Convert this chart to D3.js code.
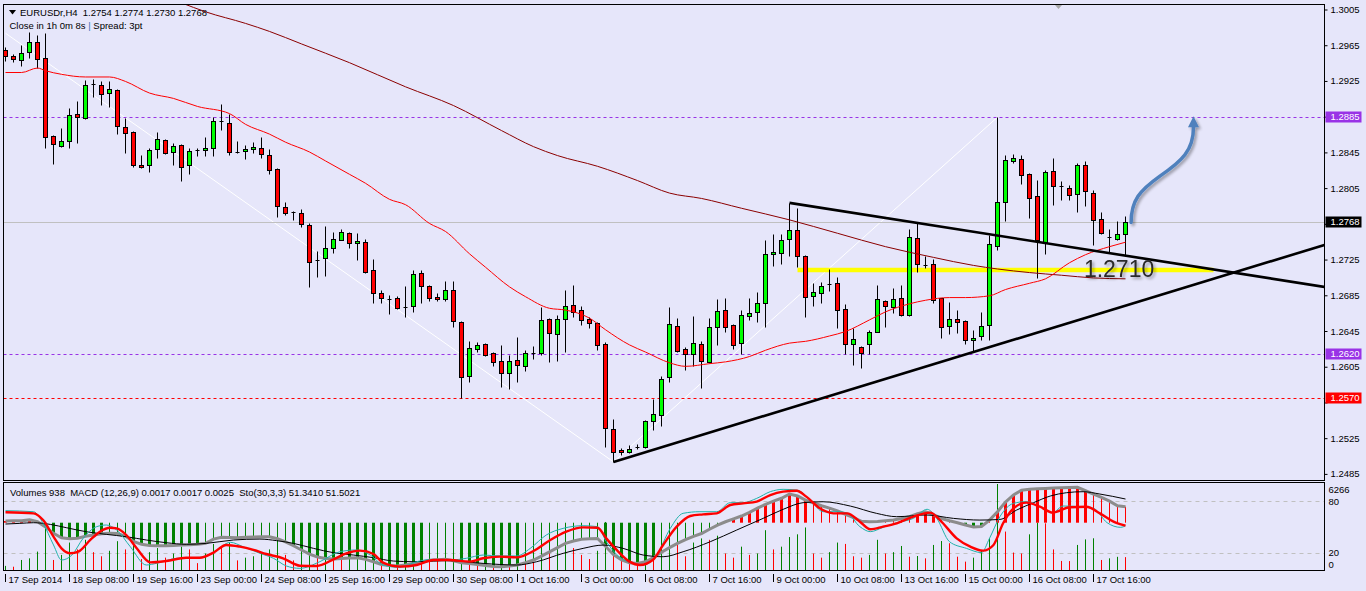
<!DOCTYPE html>
<html><head><meta charset="utf-8">
<script src="https://cdn.jsdelivr.net/npm/d3@7"></script>
<style>
html,body{margin:0;padding:0;background:#E6E6FA;overflow:hidden;}
svg{display:block;}
text{font-family:"Liberation Sans",Arial,sans-serif;}
</style></head><body>
<svg id="c" width="1366" height="591"></svg>
<script>
// ---------------- DATA ----------------
const symbol = "EURUSDr,H4";
const open = [1.2960,1.2954,1.2949,1.2958,1.2969,1.2951,1.2864,1.2853,1.2858,1.2888,
1.2884,1.2922,1.2921,1.2912,1.2915,1.2874,1.2868,1.2832,1.2832,1.2849,
1.2859,1.2846,1.2854,1.2831,1.2848,1.2848,1.2850,1.2881,1.2879,1.2846,
1.2847,1.2849,1.2851,1.2843,1.2827,1.2784,1.2779,1.2778,1.2764,1.2725,
1.2727,1.2739,1.2748,1.2755,1.2744,1.2745,1.2714,1.2688,1.2681,1.2682,
1.2673,1.2674,1.2710,1.2696,1.2684,1.2681,1.2692,1.2656,1.2595,1.2625,
1.2631,1.2621,1.2612,1.2599,1.2613,1.2606,1.2621,1.2621,1.2659,1.2642,
1.2659,1.2675,1.2669,1.2659,1.2654,1.2631,1.2536,1.2512,1.2510,1.2516,
1.2516,1.2545,1.2552,1.2594,1.2651,1.2625,1.2620,1.2631,1.2611,1.2650,
1.2669,1.2652,1.2632,1.2662,1.2667,1.2677,1.2732,1.2733,1.2749,1.2759,
1.2729,1.2685,1.2688,1.2698,1.2699,1.2670,1.2631,1.2628,1.2631,1.2645,
1.2679,1.2672,1.2682,1.2663,1.2750,1.2720,1.2721,1.2682,1.2651,1.2659,
1.2657,1.2636,1.2640,1.2652,1.2741,1.2790,1.2836,1.2838,1.2821,1.2797,
1.2745,1.2825,1.2808,1.2806,1.2799,1.2832,1.2800,1.2771,1.2751,1.2749,
1.2754];
const high = [1.2964,1.2956,1.2966,1.2980,1.2977,1.2979,1.2865,1.2873,1.2895,1.2903,
1.2927,1.2928,1.2925,1.2925,1.2916,1.2884,1.2870,1.2843,1.2850,1.2868,
1.2861,1.2856,1.2855,1.2850,1.2851,1.2863,1.2885,1.2900,1.2889,1.2858,
1.2854,1.2857,1.2863,1.2849,1.2828,1.2790,1.2780,1.2782,1.2767,1.2735,
1.2763,1.2756,1.2760,1.2756,1.2755,1.2749,1.2726,1.2691,1.2686,1.2685,
1.2696,1.2714,1.2714,1.2697,1.2688,1.2701,1.2701,1.2657,1.2634,1.2633,
1.2632,1.2622,1.2630,1.2619,1.2639,1.2624,1.2629,1.2673,1.2660,1.2663,
1.2691,1.2697,1.2674,1.2661,1.2656,1.2633,1.2547,1.2515,1.2518,1.2519,
1.2546,1.2569,1.2595,1.2673,1.2660,1.2628,1.2662,1.2634,1.2660,1.2681,
1.2682,1.2653,1.2669,1.2683,1.2689,1.2747,1.2754,1.2754,1.2789,1.2783,
1.2731,1.2699,1.2700,1.2715,1.2706,1.2676,1.2649,1.2629,1.2647,1.2697,
1.2680,1.2694,1.2697,1.2760,1.2766,1.2730,1.2726,1.2683,1.2678,1.2669,
1.2658,1.2647,1.2667,1.2753,1.2885,1.2843,1.2844,1.2843,1.2822,1.2815,
1.2826,1.2839,1.2814,1.2809,1.2834,1.2836,1.2803,1.2779,1.2760,1.2769,
1.2774];
const low = [1.2948,1.2947,1.2942,1.2951,1.2940,1.2850,1.2833,1.2852,1.2851,1.2856,
1.2883,1.2908,1.2899,1.2896,1.2866,1.2845,1.2829,1.2828,1.2824,1.2839,
1.2844,1.2831,1.2814,1.2821,1.2842,1.2841,1.2841,1.2871,1.2843,1.2845,
1.2838,1.2845,1.2839,1.2821,1.2773,1.2776,1.2770,1.2762,1.2695,1.2706,
1.2707,1.2733,1.2747,1.2738,1.2725,1.2711,1.2677,1.2677,1.2665,1.2670,
1.2661,1.2667,1.2677,1.2679,1.2679,1.2679,1.2650,1.2570,1.2588,1.2622,
1.2618,1.2606,1.2583,1.2581,1.2588,1.2601,1.2614,1.2619,1.2611,1.2612,
1.2622,1.2661,1.2652,1.2649,1.2624,1.2516,1.2499,1.2507,1.2509,1.2513,
1.2515,1.2535,1.2539,1.2588,1.2622,1.2602,1.2606,1.2582,1.2610,1.2630,
1.2644,1.2625,1.2620,1.2658,1.2656,1.2650,1.2718,1.2721,1.2729,1.2717,
1.2661,1.2674,1.2677,1.2690,1.2649,1.2620,1.2607,1.2604,1.2620,1.2644,
1.2650,1.2666,1.2662,1.2662,1.2712,1.2716,1.2677,1.2638,1.2642,1.2643,
1.2631,1.2623,1.2635,1.2636,1.2736,1.2769,1.2834,1.2810,1.2772,1.2705,
1.2732,1.2787,1.2792,1.2792,1.2779,1.2785,1.2742,1.2754,1.2734,1.2747,
1.2730];
const close = [1.2954,1.2950,1.2957,1.2969,1.2950,1.2863,1.2855,1.2858,1.2887,1.2885,
1.2921,1.2922,1.2911,1.2916,1.2875,1.2867,1.2831,1.2829,1.2848,1.2860,
1.2845,1.2853,1.2829,1.2847,1.2848,1.2850,1.2881,1.2881,1.2846,1.2846,
1.2849,1.2852,1.2844,1.2826,1.2786,1.2778,1.2779,1.2765,1.2723,1.2725,
1.2738,1.2749,1.2756,1.2744,1.2746,1.2712,1.2688,1.2682,1.2681,1.2671,
1.2673,1.2709,1.2696,1.2683,1.2681,1.2691,1.2657,1.2594,1.2626,1.2630,
1.2619,1.2611,1.2598,1.2612,1.2607,1.2621,1.2621,1.2658,1.2643,1.2659,
1.2674,1.2667,1.2658,1.2655,1.2630,1.2537,1.2510,1.2510,1.2514,1.2516,
1.2545,1.2553,1.2592,1.2653,1.2623,1.2620,1.2632,1.2612,1.2650,1.2668,
1.2650,1.2630,1.2663,1.2666,1.2677,1.2732,1.2734,1.2748,1.2759,1.2730,
1.2684,1.2689,1.2696,1.2698,1.2669,1.2631,1.2637,1.2621,1.2644,1.2681,
1.2674,1.2681,1.2663,1.2751,1.2721,1.2719,1.2680,1.2650,1.2659,1.2656,
1.2635,1.2638,1.2651,1.2743,1.2790,1.2837,1.2839,1.2820,1.2795,1.2747,
1.2824,1.2808,1.2807,1.2798,1.2831,1.2802,1.2770,1.2755,1.2750,1.2754,
1.2768];
// moving averages: [bar, price]
const maFast = [[0,1.2935],[2,1.2935],[4,1.2940],[5,1.2937],[7,1.2933],[10,1.2930],[13,1.2930],[15,1.2925],[18,1.2912],[21,1.2906],[24,1.2897],[28,1.2889],[30,1.2877],[33,1.2866],[35,1.2857],[38,1.2846],[40,1.2836],[43,1.2821],[45,1.2811],[48,1.2793],[50,1.2787],[53,1.2766],[55,1.2757],[58,1.2732],[60,1.2717],[63,1.2695],[65,1.2684],[68,1.2671],[70,1.2669],[73,1.2660],[75,1.2647],[78,1.2630],[80,1.2622],[83,1.2610],[85,1.2606],[88,1.2609],[90,1.2611],[93,1.2617],[95,1.2624],[98,1.2632],[100,1.2634],[103,1.2640],[105,1.2645],[108,1.2658],[110,1.2667],[113,1.2676],[115,1.2680],[118,1.2683],[120,1.2683],[123,1.2685],[125,1.2692],[128,1.2699],[130,1.2704],[133,1.2722],[135,1.2731],[138,1.2740],[140,1.2745]];
const maSlow = [[20,1.3020],[22,1.3013],[25,1.3003],[30,1.2990],[33,1.2981],[37,1.2967],[43,1.2946],[50,1.2919],[56,1.2898],[62,1.2870],[66,1.2852],[69,1.2842],[74,1.2830],[79,1.2814],[83,1.2800],[87,1.2794],[92,1.2783],[98,1.2770],[104,1.2755],[110,1.2740],[116,1.2728],[121,1.2719],[124,1.2715],[128,1.2711],[132,1.2708],[136,1.2705],[140,1.2704]];
// drawn objects (bar, price)
const whiteLines = [[[0,1.2979],[76,1.2499]], [[76,1.2499],[124,1.2885]]];
const trendRays = [[[76,1.2499],[121,1.2622]], [[98,1.2789],[130,1.2744]]];
const yellowLevel = {price:1.2714, from:99, to:151};
const noteText = {text:"1.2710", bar:134.8, price:1.2706};
const arrowPts = [[140.7,1.2767],[140.7,1.2792],[141.8,1.2803],[144.3,1.2819],[147.1,1.2836],[148.5,1.2848],[148.5,1.2874]];
const arrowTip = [148.5,1.2886];
const levels = [{price:1.2885,color:"#9933E6"},{price:1.2620,color:"#9933E6"},{price:1.2570,color:"#FF0000"}];
const priceTicks = [1.2485,1.2525,1.2565,1.2605,1.2645,1.2685,1.2725,1.2765,1.2805,1.2845,1.2885,1.2925,1.2965,1.3005];
const tickBars = [0,8,16,24,32,40,48,56,64,72,80,88,96,104,112,120,128,136];
const tickLabels = ["17 Sep 2014","18 Sep 08:00","19 Sep 16:00","23 Sep 00:00","24 Sep 08:00","25 Sep 16:00","29 Sep 00:00","30 Sep 08:00","1 Oct 16:00","3 Oct 00:00","6 Oct 08:00","7 Oct 16:00","9 Oct 00:00","10 Oct 08:00","13 Oct 16:00","15 Oct 00:00","16 Oct 08:00","17 Oct 16:00"];
// sub window
const volume = [300,240,730,850,1340,3400,730,1100,2000,1500,
2200,1300,1000,1400,2100,1500,1900,800,1300,1600,
900,1200,1700,1500,500,1200,1900,1600,2000,700,
900,1000,1200,1500,2600,1100,700,1400,2900,1400,
2200,1300,800,1000,1500,2100,2300,900,1300,800,
1600,2000,1500,900,700,1100,2300,3300,2400,700,
900,800,1900,1500,2000,900,600,2200,1700,1800,
2000,1600,1100,800,1400,3500,2400,900,700,500,
1500,1400,2000,2800,2100,1000,2000,2300,2200,2500,
1200,900,1700,1100,1200,2900,1500,1700,2400,2600,
3100,1200,900,1300,2000,1900,1000,900,1100,2200,
1200,1300,1750,970,1020,850,1825,2110,1950,970,
610,900,1460,2310,6266,2800,1270,1200,2600,3450,
3400,1500,660,650,1825,2230,2310,730,850,960,
938];
// MACD main, in thousandths
const macdMain = [0.18,0.20,0.22,0.30,0.10,-0.45,-1.13,-1.60,-1.70,-1.65,
-1.45,-1.31,-1.18,-1.12,-1.15,-1.45,-2.00,-2.30,-2.42,-2.45,
-2.45,-2.42,-2.38,-2.34,-2.30,-2.20,-1.75,-1.55,-1.58,-1.60,
-1.55,-1.52,-1.50,-1.50,-1.70,-2.05,-2.45,-2.90,-3.35,-3.65,
-3.80,-3.85,-3.80,-3.75,-3.72,-3.90,-4.15,-4.45,-4.55,-4.61,
-4.50,-4.35,-4.20,-4.00,-3.95,-3.90,-4.05,-4.25,-4.33,-4.45,
-4.55,-4.65,-4.68,-4.60,-4.50,-4.25,-3.97,-3.55,-3.10,-2.65,
-2.20,-1.95,-1.77,-1.70,-1.67,-2.50,-3.40,-3.95,-4.25,-4.33,
-4.15,-3.70,-3.15,-2.65,-2.20,-1.80,-1.45,-1.15,-0.70,-0.25,
0.10,0.40,0.71,1.10,1.55,1.95,2.30,2.60,3.05,2.85,
2.40,2.10,1.80,1.55,1.25,0.90,0.55,0.15,0.11,0.12,
0.20,0.28,0.45,0.64,0.95,1.17,0.85,0.45,0.21,0.00,
-0.25,-0.45,-0.40,0.28,1.17,2.20,2.95,3.45,3.55,3.60,
3.65,3.68,3.72,3.74,3.76,3.40,3.05,2.70,2.30,1.80,
1.70];
const macdSignal = [[0,-0.14],[1.8,-0.07],[3.5,0],[5.6,-0.18],[7.6,-0.53],[10.1,-0.96],[12.6,-1.24],[15.1,-1.49],[17.6,-1.84],[20.1,-2.13],[22.6,-2.30],[25.1,-2.20],[28.5,-1.84],[31.8,-1.74],[33.9,-1.91],[36,-2.20],[38.5,-2.73],[41,-3.19],[43.5,-3.44],[46,-3.72],[48.5,-4.08],[51,-4.15],[53.5,-4.08],[55.6,-4.04],[59.7,-4.33],[63.9,-4.50],[66.4,-4.15],[69.7,-3.26],[72.2,-2.73],[74.7,-2.38],[77.2,-2.73],[79.7,-3.44],[82.2,-3.62],[84.7,-3.09],[88.1,-2.02],[91.4,-0.78],[94.7,0.46],[97.2,1.42],[99.7,2.13],[102.2,2.23],[105.6,1.77],[108.9,0.99],[111.4,0.64],[115.1,0.82],[118.5,0.46],[121.8,0.28],[124.3,0.35],[126.4,1.35],[128.5,2.13],[130.6,2.84],[132.6,3.19],[134.7,3.30],[136.8,3.05],[140,2.52]];
const stochMain = [[0,69.0],[3.5,67.8],[4.7,54.3],[6,29.1],[7,11.6],[8.3,17.4],[9.7,36.8],[11.4,50.4],[12.6,52.3],[13.9,46.5],[15.6,27.1],[17.6,5.8],[18.9,7.8],[21.4,13.6],[24.3,14.7],[26,20.2],[28.1,32.2],[29.7,27.1],[31.8,19.4],[33.5,13.6],[35.1,4.7],[36.8,1.9],[39.3,9.7],[41.8,21.3],[43.9,23.3],[45.6,17.4],[47.2,5.8],[49.3,3.1],[51.4,9.7],[53.5,12.4],[55.6,11.6],[57.6,13.6],[59.7,17.4],[61.8,16.3],[63.9,16.3],[65.6,25.2],[67.6,40.7],[69.7,48.4],[72.2,51.5],[74,50.4],[75.1,32.9],[76.8,14.7],[78.5,7.8],[79.7,5.8],[81.4,17.4],[83.1,48.4],[84.7,65.9],[86.8,67.8],[88.9,67.8],[90.6,78.3],[92.2,78.3],[93.9,83.3],[95.6,91.1],[97.2,93.8],[98.9,93.0],[100.6,81.4],[102.2,67.8],[103.9,67.8],[105.1,66.7],[106.8,50.4],[108.1,44.6],[109.7,49.6],[111.4,55.0],[113.5,60.1],[115.2,70.6],[116.4,60.1],[118,32.9],[120.1,25.2],[122,20.2],[123,36.8],[124.3,62.0],[126,77.5],[127.6,79.5],[129.3,73.6],[130.9,66.7],[132.2,74.4],[134.3,73.6],[136,71.7],[137.7,55.0],[139.4,49.6],[140,51.341]];
const stochSignal = [[0,67.1],[3.5,65.9],[4.7,58.1],[6,38.8],[7,25.2],[8.1,19.4],[9.1,21.3],[10.6,34.9],[11.8,44.6],[13.1,49.2],[13.9,48.4],[15.1,40.7],[16.4,25.2],[18.1,8.9],[20.1,10.5],[22.6,14.3],[24.3,14.3],[26,20.2],[27.6,29.1],[29.3,27.1],[31,23.3],[32.6,18.6],[34.7,13.6],[36.8,5.0],[38.9,4.7],[41,12.4],[42.6,19.4],[44.3,22.5],[46,18.6],[47.2,8.5],[49.3,3.9],[51.4,5.8],[53.5,11.6],[55.6,11.6],[58,9.7],[59.7,13.6],[61.8,15.5],[63.9,14.7],[66,22.1],[68.1,34.9],[70.1,44.6],[72.2,49.6],[74,49.2],[75.1,36.8],[76.4,23.3],[78,9.7],[79.3,5.8],[80.9,11.6],[82.2,29.1],[83.9,50.4],[85.6,62.8],[87.2,64.7],[88.9,65.9],[90.6,75.6],[92.2,77.5],[93.9,79.5],[95.6,87.2],[97.2,91.1],[98.9,92.2],[100.1,85.3],[101.8,71.7],[103.5,65.9],[105.2,65.9],[106.8,56.2],[108.1,47.3],[109.7,50.4],[111.4,54.3],[113.5,62.0],[115.6,66.7],[116.8,58.1],[118.9,36.8],[120.6,27.1],[122.2,22.5],[123.5,29.1],[124.7,54.3],[126,71.7],[127.6,78.3],[129.3,73.6],[130.9,66.7],[133,72.9],[135.1,73.6],[136.8,65.9],[138.5,56.2],[140,51.5021]];
const stochLevels = [80,20];

// ---------------- DRAWING ----------------
const W=1366,H=591;
const M={l:3.5,r:1324.5,t:4.5,b:480.5};
const S={t:482.5,b:570.5};
const svg=d3.select('#c');
const last=close.length-1;
const x=d3.scaleLinear().domain([0,140]).range([5.5,1125.5]);
const y=d3.scaleLinear().domain([1.2485,1.3005]).range([474.4,10]);
const vy=d3.scaleLinear().domain([0,6266]).range([570,484]);
const sy=d3.scaleLinear().domain([0,100]).range([570,484]);
const my=d3.scaleLinear().domain([-5.0,4.15]).range([569.7,483.7]);
const sigAt=d3.scaleLinear().domain(macdSignal.map(d=>d[0])).range(macdSignal.map(d=>d[1]));
const py=v=>Math.round(y(v))+0.5;
const f4=d3.format('.4f');

svg.append('rect').attr('width',W).attr('height',H).attr('fill','#E6E6FA');
const defs=svg.append('defs');
defs.append('clipPath').attr('id','cm').append('rect').attr('x',M.l+0.5).attr('y',M.t+0.5).attr('width',M.r-M.l-1).attr('height',M.b-M.t-1);
defs.append('clipPath').attr('id','cs').append('rect').attr('x',M.l+0.5).attr('y',S.t+0.5).attr('width',M.r-M.l-1).attr('height',S.b-S.t-1);
const fl=defs.append('filter').attr('id','sh').attr('x','-20%').attr('y','-20%').attr('width','150%').attr('height','150%');
fl.append('feGaussianBlur').attr('in','SourceAlpha').attr('stdDeviation',1.6).attr('result','b');
fl.append('feOffset').attr('in','b').attr('dx',1.5).attr('dy',1.5).attr('result','o');
fl.append('feComponentTransfer').attr('in','o').attr('result','t').append('feFuncA').attr('type','linear').attr('slope',0.35);
const fm=fl.append('feMerge'); fm.append('feMergeNode').attr('in','t'); fm.append('feMergeNode').attr('in','SourceGraphic');

const g=svg.append('g').attr('clip-path','url(#cm)');
const xl=M.l, xr=M.r;

// white helper lines
g.selectAll('line.wl').data(whiteLines).join('line')
 .attr('x1',d=>x(d[0][0])).attr('y1',d=>y(d[0][1])).attr('x2',d=>x(d[1][0])).attr('y2',d=>y(d[1][1]))
 .attr('stroke','#FFFFFF').attr('stroke-width',1);

// yellow level
g.append('line').attr('x1',x(yellowLevel.from)).attr('x2',x(yellowLevel.to))
 .attr('y1',y(yellowLevel.price)).attr('y2',y(yellowLevel.price))
 .attr('stroke','#FFFF00').attr('stroke-width',4.5);

// horizontal levels
g.selectAll('line.lv').data(levels).join('line')
 .attr('x1',xl).attr('x2',xr).attr('y1',d=>py(d.price)).attr('y2',d=>py(d.price))
 .attr('stroke',d=>d.color).attr('stroke-dasharray','3,3').attr('stroke-width',1);
// bid line
g.append('line').attr('x1',xl).attr('x2',xr).attr('y1',py(close[last])).attr('y2',py(close[last]))
 .attr('stroke','#C0C0C0').attr('stroke-width',1);

// candles
const idx=d3.range(close.length);
const cg=g.append('g');
cg.selectAll('line.wick').data(idx).join('line')
 .attr('x1',i=>x(i)).attr('x2',i=>x(i)).attr('y1',i=>py(high[i])).attr('y2',i=>py(low[i]))
 .attr('stroke','#000').attr('stroke-width',1);
idx.forEach(i=>{
  const t=py(Math.max(open[i],close[i])), b=py(Math.min(open[i],close[i]));
  if(b-t<1.5){
    cg.append('line').attr('x1',x(i)-2).attr('x2',x(i)+2).attr('y1',t).attr('y2',t).attr('stroke','#000');
  } else {
    cg.append('rect').attr('x',x(i)-2).attr('y',t).attr('width',4).attr('height',b-t)
      .attr('fill',close[i]>open[i]?'#00FF00':'#FF0000').attr('stroke','#000').attr('stroke-width',1);
  }
});

// moving averages
const ln=d3.line().x(d=>x(d[0])).y(d=>y(d[1])).curve(d3.curveMonotoneX);
g.append('path').attr('d',ln(maSlow)).attr('fill','none').attr('stroke','#8B0000').attr('stroke-width',1);
g.append('path').attr('d',ln(maFast)).attr('fill','none').attr('stroke','#FF0000').attr('stroke-width',1);

// trend rays (extended to right edge)
const bRight=x.invert(M.r);
trendRays.forEach(r=>{
  const [a,b]=r; const s=(b[1]-a[1])/(b[0]-a[0]);
  g.append('line').attr('x1',x(a[0])).attr('y1',y(a[1])).attr('x2',x(bRight)).attr('y2',y(a[1]+s*(bRight-a[0])))
   .attr('stroke','#000').attr('stroke-width',2.6);
});

// note text
g.append('text').attr('x',x(noteText.bar)).attr('y',y(noteText.price)).text(noteText.text)
 .attr('font-size','23px').attr('fill','#2b2b2b').attr('filter','url(#sh)');

// blue arrow
const P=arrowPts.map(p=>[x(p[0]),y(p[1])]);
const ad=`M${P[0]}C${P[1]} ${P[2]} ${P[3]}C${P[4]} ${P[5]} ${P[6]}`;
const ag=g.append('g').attr('filter','url(#sh)');
ag.append('path').attr('d',ad).attr('fill','none').attr('stroke','#4F81BD').attr('stroke-width',3.5).attr('stroke-linecap','round');
const tx=x(arrowTip[0]), ty=y(arrowTip[1]);
ag.append('path').attr('d',`M${tx},${ty}L${tx-5.5},${ty+11}L${tx+5.5},${ty+11}Z`).attr('fill','#4F81BD');

// frames
svg.append('rect').attr('x',M.l).attr('y',M.t).attr('width',M.r-M.l).attr('height',M.b-M.t).attr('fill','none').attr('stroke','#000');
svg.append('rect').attr('x',M.l).attr('y',S.t).attr('width',M.r-M.l).attr('height',S.b-S.t).attr('fill','none').attr('stroke','#000');
// shift marker
svg.append('path').attr('d','M1055,5L1062,5L1058.5,9Z').attr('fill','#A8A8A8');

// headers
svg.append('path').attr('d','M9,10L16,10L12.5,14.5Z').attr('fill','#000');
svg.append('text').attr('x',20).attr('y',12.7).attr('dy','0.35em').attr('font-size','9.5px').style('white-space','pre')
 .text(`${symbol}  ${f4(open[last])} ${f4(high[last])} ${f4(low[last])} ${f4(close[last])}`);
const t2=svg.append('text').attr('x',9.5).attr('y',25.7).attr('dy','0.35em').attr('font-size','9.5px').style('white-space','pre');
t2.append('tspan').text('Close in 1h 0m 8s ');
t2.append('tspan').attr('fill','#3b6fb6').text('|');
t2.append('tspan').text(' Spread: 3pt');

// right price axis (labels hidden where a level box covers them)
const boxes=levels.map(d=>({price:d.price,color:d.color})).concat([{price:close[last],color:'#000'}]);
const ya=d3.axisRight(y).tickValues(priceTicks).tickSize(3).tickPadding(3).tickFormat(f4).offset(0);
const yag=svg.append('g').attr('transform',`translate(${M.r},0)`).call(ya);
yag.select('.domain').remove();
yag.selectAll('text').attr('font-size','9.5px').attr('fill','#000').attr('font-family','"Liberation Sans",Arial,sans-serif')
 .style('display',d=>boxes.some(b=>Math.abs(y(b.price)-y(d))<11)?'none':null);
const bg=svg.append('g');
boxes.forEach(d=>{
  const yy=Math.round(y(d.price));
  bg.append('rect').attr('x',M.r+1).attr('y',yy-5.5).attr('width',36).attr('height',11).attr('fill',d.color);
  bg.append('text').attr('x',M.r+6).attr('y',yy).attr('dy','0.35em').attr('font-size','9.5px').attr('fill','#fff').text(f4(d.price));
});

// time axis
const xa=d3.axisBottom(x).tickValues(tickBars).tickSize(8).tickFormat((d,i)=>tickLabels[i]).offset(0);
const xag=svg.append('g').attr('transform','translate(0,574)').call(xa);
xag.select('.domain').remove();
xag.selectAll('text').attr('x',3).attr('y',6).attr('dy','0.35em').attr('text-anchor','start')
 .attr('font-size','9.5px').attr('fill','#000').attr('font-family','"Liberation Sans",Arial,sans-serif');

// ---------------- SUB WINDOW ----------------
const sg=svg.append('g').attr('clip-path','url(#cs)');
sg.selectAll('line.sl').data(stochLevels).join('line')
 .attr('x1',xl).attr('x2',xr).attr('y1',d=>Math.round(sy(d))+0.5).attr('y2',d=>Math.round(sy(d))+0.5)
 .attr('stroke','#C0C0C0').attr('stroke-dasharray','4,4');
// volumes
sg.selectAll('line.vol').data(volume).join('line')
 .attr('x1',(d,i)=>x(i)).attr('x2',(d,i)=>x(i)).attr('y1',vy(0)).attr('y2',d=>vy(d))
 .attr('stroke',(d,i)=>(i===0||d>volume[i-1])?'#008000':'#FF0000').attr('stroke-width',1);
// MACD histogram: thick when main is beyond the signal line
sg.selectAll('line.mh').data(macdMain).join('line')
 .attr('x1',(d,i)=>x(i)).attr('x2',(d,i)=>x(i)).attr('y1',my(0)).attr('y2',d=>my(d))
 .attr('stroke',d=>d>=0?'#FF0000':'#008000')
 .attr('stroke-width',(d,i)=>{const s=sigAt(i);return (d<0&&d<s)||(d>=0&&d>s)?3:1;});
// MACD lines
sg.append('path').attr('d',d3.line().x((d,i)=>x(i)).y(d=>my(d))(macdMain)).attr('fill','none').attr('stroke','#8C8C8C').attr('stroke-width',3);
sg.append('path').attr('d',d3.line().x(d=>x(d[0])).y(d=>my(d[1])).curve(d3.curveMonotoneX)(macdSignal)).attr('fill','none').attr('stroke','#000').attr('stroke-width',1);
// Stochastic
const sl=d3.line().x(d=>x(d[0])).y(d=>sy(d[1])).curve(d3.curveMonotoneX);
sg.append('path').attr('d',sl(stochMain)).attr('fill','none').attr('stroke','#20B2AA').attr('stroke-width',1);
sg.append('path').attr('d',sl(stochSignal)).attr('fill','none').attr('stroke','#FF0000').attr('stroke-width',2.4);

// sub header
svg.append('text').attr('x',10).attr('y',492.3).attr('dy','0.35em').attr('font-size','9.5px').style('white-space','pre')
 .text(`Volumes ${volume[last]}  MACD (12,26,9) ${f4(macdMain[last]/1000)} ${f4(macdMain[last]/1000)} ${f4(macdSignal[macdSignal.length-1][1]/1000)}  Sto(30,3,3) ${stochMain[stochMain.length-1][1].toFixed(4)} ${stochSignal[stochSignal.length-1][1].toFixed(4)}`);
// sub axis labels
const subLabels=[{t:String(d3.max(volume)),y:vy(d3.max(volume))+6},{t:'80',y:sy(80)},{t:'20',y:sy(20)},{t:'0',y:Math.min(sy(0),565)}];
svg.selectAll('text.sub').data(subLabels).join('text').attr('x',M.r+4).attr('y',d=>d.y).attr('dy','0.35em')
 .attr('font-size','9.5px').text(d=>d.t);
</script></body></html>
